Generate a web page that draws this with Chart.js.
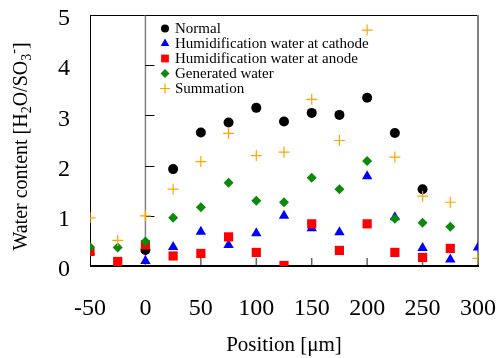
<!DOCTYPE html>
<html><head><meta charset="utf-8">
<script src="https://cdn.jsdelivr.net/npm/chart.js@4.4.1/dist/chart.umd.min.js"></script>
<style>html,body{margin:0;padding:0;background:#fff}#wrap{width:498px;height:358px}</style>
</head><body><div id="wrap"><canvas id="c" width="498" height="358"></canvas></div>
<script>
const positions = [-50,-25,0,25,50,75,100,125,150,175,200,225,250,275,300];
const normalX = [0,25,50,75,100,125,150,175,200,225,250];
const normal = [0.32,1.93,2.66,2.86,3.15,2.88,3.05,3.01,3.35,2.65,1.53];
const cathodeX = [-50,-25,0,25,50,75,100,125,150,175,200,225,250,275,300];
const cathode = [0.28,0.03,0.10,0.38,0.68,0.42,0.65,1.00,0.75,0.67,1.79,0.97,0.36,0.13,0.37];
const anodeX = [-50,-25,0,25,50,75,100,125,150,175,200,225,250,275];
const anode = [0.29,0.09,0.42,0.20,0.25,0.58,0.27,0.01,0.84,0.31,0.84,0.27,0.17,0.35];
const generatedX = [-50,-25,0,25,50,75,100,125,150,175,200,225,250,275];
const generated = [0.38,0.37,0.49,0.96,1.17,1.66,1.30,1.27,1.76,1.53,2.09,0.94,0.86,0.78];
const summationX = [-50,-25,0,25,50,75,100,125,150,175,200,225,250,275,300];
const summation = [0.96,0.51,1.00,1.53,2.08,2.64,2.20,2.27,3.32,2.50,4.70,2.17,1.39,1.27,0.15];
const xTicks = [-50,0,50,100,150,200,250,300];
const yTicks = [0,1,2,3,4,5];
const seriesNames = ['Normal','Humidification water at cathode','Humidification water at anode','Generated water','Summation'];

function pts(xs, ys){ return xs.map((x,i)=>({x:x,y:ys[i]})); }

const SERIF = "'Liberation Serif','DejaVu Serif',serif";

const styles = [
  {pointStyle:'circle', radius:5, color:'#000000', lr:4},
  {pointStyle:'triangle', radius:6, color:'#0000ff', lr:5},
  {pointStyle:'rect', radius:6.5, color:'#ff0000', lr:5.5},
  {pointStyle:'rectRot', radius:5, color:'#0a8a0a', lr:4.5},
  {pointStyle:'cross', radius:5.5, color:'#ffa500', lr:5}
];
const allData = [pts(normalX,normal),pts(cathodeX,cathode),pts(anodeX,anode),pts(generatedX,generated),pts(summationX,summation)];

const datasets = allData.map((d,i)=>({
  label: seriesNames[i],
  data: d,
  pointStyle: styles[i].pointStyle,
  pointRadius: styles[i].radius,
  pointHoverRadius: styles[i].radius,
  backgroundColor: styles[i].color,
  borderColor: styles[i].color,
  borderWidth: i===4 ? 1.2 : 0,
  showLine: false,
  order: 5 - i
}));

function zeroPad(s){ s.paddingLeft=0; s.paddingRight=0; s.paddingTop=0; s.paddingBottom=0; }

const framePlugin = {
  id:'frame',
  beforeDatasetsDraw(chart){
    const {ctx, chartArea:a, scales:{x,y}} = chart;
    ctx.save();
    ctx.strokeStyle='#000'; ctx.lineWidth=1;
    ctx.beginPath(); ctx.moveTo(a.left, a.top+0.5); ctx.lineTo(a.right, a.top+0.5); ctx.stroke();
    ctx.beginPath(); ctx.moveTo(a.left+0.5, a.top); ctx.lineTo(a.left+0.5, a.bottom); ctx.stroke();
    ctx.strokeStyle='#808080'; ctx.lineWidth=2;
    ctx.beginPath(); ctx.moveTo(a.right, a.top); ctx.lineTo(a.right, a.bottom); ctx.stroke();
    const x0 = x.getPixelForValue(0);
    ctx.strokeStyle='#808080'; ctx.lineWidth=1.5;
    ctx.beginPath(); ctx.moveTo(x0, a.top); ctx.lineTo(x0, a.bottom); ctx.stroke();
    ctx.strokeStyle='#000'; ctx.lineWidth=1;
    yTicks.forEach(v=>{ if(v===0) return; const py=Math.round(y.getPixelForValue(v))+0.5;
      ctx.beginPath(); ctx.moveTo(x0, py); ctx.lineTo(x0+9, py); ctx.stroke(); });
    ctx.strokeStyle='#666'; ctx.lineWidth=1.5;
    xTicks.forEach(v=>{ if(v<=0) return; const px=x.getPixelForValue(v);
      ctx.beginPath(); ctx.moveTo(px, a.bottom); ctx.lineTo(px, a.bottom-8); ctx.stroke(); });
    ctx.strokeStyle='#000'; ctx.lineWidth=2;
    ctx.beginPath(); ctx.moveTo(a.left, a.bottom); ctx.lineTo(a.right+1, a.bottom); ctx.stroke();
    ctx.restore();
  },
  afterDraw(chart){
    const {ctx, chartArea:a} = chart;
    ctx.save();
    ctx.font = "15px " + SERIF;
    ctx.textBaseline='middle'; ctx.textAlign='left'; ctx.fillStyle='#000';
    seriesNames.forEach((n,i)=>{
      const yy = 28.5 + i*15;
      const s = styles[i];
      ctx.fillStyle = s.color; ctx.strokeStyle = s.color; ctx.lineWidth = 1.2;
      Chart.helpers.drawPoint(ctx, {pointStyle:s.pointStyle, radius:s.lr, rotation:0, borderWidth: i===4?1.2:0}, 165, yy);
      ctx.fillStyle='#000';
      ctx.fillText(n, 175, yy+1);
    });
    const segs = [
      {t:'Water content [H', k:0},{t:'2', k:1},{t:'O/SO', k:0},{t:'3', k:1},{t:'-', k:2},{t:']', k:0}
    ];
    const fs = 20, fsSmall = 14;
    let total = 0;
    segs.forEach(s=>{ ctx.font = (s.k?fsSmall:fs)+"px "+SERIF; s.w = ctx.measureText(s.t).width; total += s.w; });
    ctx.translate(27, (a.top+a.bottom)/2 + 6);
    ctx.rotate(-Math.PI/2);
    ctx.textBaseline='alphabetic';
    let cx = -total/2;
    segs.forEach(s=>{
      ctx.font = (s.k?fsSmall:fs)+"px "+SERIF;
      const off = s.k===1 ? 4 : (s.k===2 ? -9 : 0);
      ctx.fillText(s.t, cx, off);
      cx += s.w;
    });
    ctx.restore();
  }
};

new Chart(document.getElementById('c'), {
  type:'scatter',
  data:{datasets},
  options:{
    responsive:false, animation:false, devicePixelRatio:1,
    layout:{padding:{left:0,right:20,top:15,bottom:0}},
    plugins:{legend:{display:false}, tooltip:{enabled:false}},
    scales:{
      x:{type:'linear', min:-50, max:300,
        afterBuildTicks(s){ s.ticks = xTicks.map(v=>({value:v})); },
        afterFit(s){ s.height = 92; zeroPad(s); },
        grid:{display:false, drawTicks:false}, border:{display:false},
        ticks:{font:{family:SERIF,size:24}, color:'#000', padding:28, maxRotation:0, autoSkip:false},
        title:{display:true, text:'Position [μm]', font:{family:SERIF,size:21}, color:'#000', padding:{top:0,bottom:0}}
      },
      y:{type:'linear', min:0, max:5,
        afterBuildTicks(s){ s.ticks = yTicks.map(v=>({value:v})); },
        afterFit(s){ s.width = 90; zeroPad(s); },
        grid:{display:false, drawTicks:false}, border:{display:false},
        ticks:{font:{family:SERIF,size:24}, color:'#000', padding:20, labelOffset:4}
      }
    }
  },
  plugins:[framePlugin]
});
</script></body></html>
